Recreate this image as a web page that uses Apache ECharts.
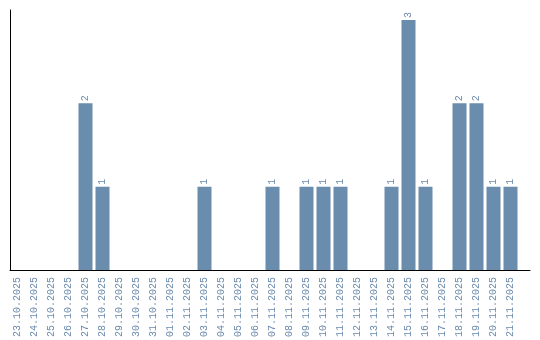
<!DOCTYPE html>
<html><head><meta charset="utf-8">
<script src="https://cdn.jsdelivr.net/npm/echarts@6/dist/echarts.min.js"></script>
<style>html,body{margin:0;padding:0;background:#fff}#c{width:540px;height:340px}</style>
</head><body><div id="c"></div>
<script>
const categories = ["23.10.2025","24.10.2025","25.10.2025","26.10.2025","27.10.2025","28.10.2025","29.10.2025","30.10.2025","31.10.2025","01.11.2025","02.11.2025","03.11.2025","04.11.2025","05.11.2025","06.11.2025","07.11.2025","08.11.2025","09.11.2025","10.11.2025","11.11.2025","12.11.2025","13.11.2025","14.11.2025","15.11.2025","16.11.2025","17.11.2025","18.11.2025","19.11.2025","20.11.2025","21.11.2025"];
const values = [0,0,0,0,2,1,0,0,0,0,0,1,0,0,0,1,0,1,1,1,0,0,1,3,1,0,2,2,1,1];
const barColor = '#6a8cad';
const textColor = '#6b8aad';
const chart = echarts.init(document.getElementById('c'));
chart.setOption({
  animation: false,
  grid: [
    {left: 9, width: 510, top: 10, bottom: 70},
    {left: 10, width: 520, top: 10, bottom: 70}
  ],
  xAxis: [
    {type: 'category', data: categories, gridIndex: 0,
     axisLine: {show: false}, axisTick: {show: false},
     axisLabel: {interval: 0, rotate: 90, color: textColor, fontFamily: 'Liberation Mono', fontSize: 10, margin: 7}},
    {type: 'value', gridIndex: 1, min: 0, max: 1,
     axisLine: {show: true, lineStyle: {color: '#000', width: 1}}, axisTick: {show: false},
     axisLabel: {show: false}, splitLine: {show: false}}
  ],
  yAxis: [
    {type: 'value', gridIndex: 0, min: 0, max: 3.12, axisLine: {show: false}, axisTick: {show: false},
     axisLabel: {show: false}, splitLine: {show: false}},
    {type: 'value', gridIndex: 1, min: 0, max: 1,
     axisLine: {show: true, lineStyle: {color: '#000', width: 1}}, axisTick: {show: false},
     axisLabel: {show: false}, splitLine: {show: false}}
  ],
  series: [{
    type: 'bar', data: values.map(v => v === 0 ? null : v), xAxisIndex: 0, yAxisIndex: 0,
    barWidth: 14, itemStyle: {color: barColor},
    label: {show: true, position: 'top', rotate: 90, align: 'left', verticalAlign: 'middle', distance: 2,
      color: textColor, fontFamily: 'Liberation Mono', fontSize: 10}
  }]
});
</script></body></html>
